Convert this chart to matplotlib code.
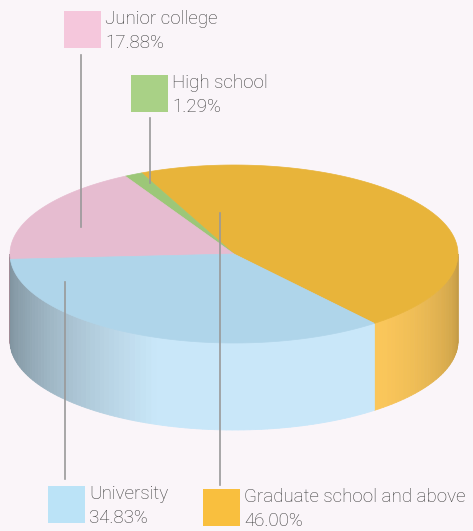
import numpy as np
import matplotlib.pyplot as plt
from matplotlib.patches import Polygon, Rectangle
from matplotlib.colors import to_rgb

# data (counterclockwise from the start angle)
categories = ["Graduate school and above", "High school", "Junior college", "University"]
shares = [46.00, 1.29, 17.88, 34.83]
labels = ["46.00%", "1.29%", "17.88%", "34.83%"]

top_colors = ["#E8B43A", "#9CC778", "#E6BCD0", "#AFD5EA"]
side_colors = ["#FAC65A", "#A9D186", "#E6BCD0", "#C9E7F9"]
legend_colors = ["#F9BF3E", "#A9D186", "#F5C7DC", "#BBE3F7"]

# pie geometry in pixel space
cx, cy, rx, ry, depth = 234, 254, 224, 89, 87
start = -51.2

bg = "#FAF5F9"
fig = plt.figure(figsize=(4.73, 5.31), dpi=100, facecolor=bg)
ax = fig.add_axes([0, 0, 1, 1])
ax.set_xlim(0, 473)
ax.set_ylim(531, 0)
ax.axis("off")


def pt(t):
    r = np.radians(t)
    return cx + rx * np.cos(r), cy - ry * np.sin(r)


def shade(t):
    t = t % 360
    return np.interp(t, [180, 200, 250, 312, 325, 360], [0.62, 0.7, 1.0, 1.0, 0.95, 0.78])


angles = start + np.cumsum([0] + [s * 3.6 for s in shares])

# side walls (front half only)
for i in range(len(shares)):
    a0, a1 = angles[i], angles[i + 1]
    for off in (0, 360, -360):
        lo, hi = max(a0 + off, 180), min(a1 + off, 360)
        if hi <= lo:
            continue
        ts = np.linspace(lo, hi, max(2, int((hi - lo) / 1.5) + 1))
        base = np.array(to_rgb(side_colors[i]))
        for ta, tb in zip(ts[:-1], ts[1:]):
            xa, ya = pt(ta)
            xb, yb = pt(tb)
            c = np.clip(base * shade((ta + tb) / 2), 0, 1)
            ax.add_patch(Polygon([(xa, ya), (xb, yb), (xb, yb + depth), (xa, ya + depth)],
                                 closed=True, facecolor=c, edgecolor=c, lw=0.6))

# top wedges
for i in range(len(shares)):
    ts = np.linspace(angles[i], angles[i + 1], 120)
    xs, ys = pt(ts)
    verts = [(cx, cy)] + list(zip(xs, ys))
    ax.add_patch(Polygon(verts, closed=True, facecolor=top_colors[i],
                         edgecolor=top_colors[i], lw=0.5))

# leader lines and labels
line_c = "#999999"
txt_c = "#3a3a3a"
fs = 13.5
leaders = {
    "Junior college": [(81, 55), (81, 227)],
    "High school": [(150, 118), (150, 183)],
    "Graduate school and above": [(220, 213), (220, 485)],
    "University": [(65, 282), (65, 479)],
}
boxes = {
    "Junior college": (64, 11),
    "High school": (131, 75),
    "University": (48, 486),
    "Graduate school and above": (203, 489),
}
for i, name in enumerate(categories):
    (x0, y0), (x1, y1) = leaders[name]
    ax.plot([x0, x1], [y0, y1], color=line_c, lw=1.2)
    bx, by = boxes[name]
    ax.add_patch(Rectangle((bx, by), 37, 37, facecolor=legend_colors[i], edgecolor="none"))
    ax.text(bx + 41, by + 13, name, fontsize=fs, color=txt_c, va="baseline", ha="left",
            family="Roboto", fontweight="light")
    ax.text(bx + 41, by + 37, labels[i], fontsize=fs, color=txt_c, va="baseline", ha="left",
            family="Roboto", fontweight="light")

fig.savefig("out.png", dpi=100, facecolor=bg)
